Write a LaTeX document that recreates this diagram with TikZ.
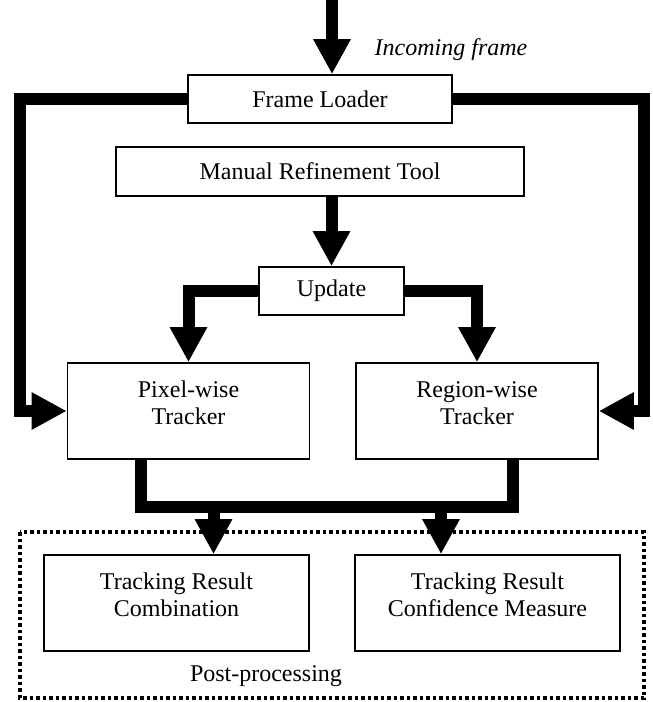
\documentclass[tikz,border=0pt]{standalone}
\usepackage{fontspec}
\setmainfont{Liberation Serif}
\usetikzlibrary{arrows.meta, calc}

\begin{document}
\begin{tikzpicture}[
  x=1pt, y=-1pt,
  every node/.style={font=\fontsize{24}{27}\selectfont},
  block/.style={draw, line width=1.6pt, minimum height=48pt, inner sep=0pt, align=center},
  tall/.style={block, minimum width=242pt, minimum height=96pt, text depth=16pt},
  note/.style={font=\fontsize{24}{27}\selectfont\itshape},
  bar/.style={line width=12pt},
  arrow/.style={bar, -{Triangle[width=35pt, length=35pt]}},
  group/.style={line width=3.5pt, dash pattern=on 3.5pt off 3pt}
]
\useasboundingbox (0,0) rectangle (653,702);

% Frame loader, refinement and update
\node[block, minimum width=264pt] (load) at (320,99) {Frame Loader};
\node[block, minimum width=408pt, minimum height=49pt] (manual) at (320,171.5) {Manual Refinement Tool};
\node[block, minimum width=145pt] (update) at (331.5,291) {Update};

% Trackers
\node[tall] (pix) at (188.5,411) {Pixel-wise\\Tracker};
\node[tall] (reg) at (477,411) {Region-wise\\Tracker};

% Post-processing
\node[tall, minimum width=265pt] (comb) at (176.5,603) {Tracking Result\\Combination};
\node[tall, minimum width=265pt] (conf) at (487.5,603) {Tracking Result\\Confidence Measure};
\draw[group] (20,532) rectangle (644,698);
\node (post) at (266,676) {Post-processing};

% Incoming frame
\coordinate (in) at (332,0);
\draw[arrow] (in) -- (in |- load.north);
\node[note] (inlbl) at (451,50) {Incoming frame};

% Side loops
\coordinate (loopL) at (20,0);
\coordinate (loopR) at (644,0);
\draw[arrow] (load.west) -- (load.west -| loopL) |- (pix.west);
\draw[arrow] (load.east) -- (load.east -| loopR) |- (reg.east);

% Refinement to trackers
\draw[arrow] (update |- manual.south) -- (update.north);
\draw[arrow] (update.west) -| (pix.north);
\draw[arrow] (update.east) -| (reg.north);

% Merge into post-processing
\coordinate (merge) at (0,507);
\coordinate (pixout) at ([xshift=-47.5pt]pix.south);
\coordinate (regout) at ([xshift=36pt]reg.south);
\coordinate (combin) at ([xshift=37pt]comb.north);
\coordinate (confin) at ([xshift=-46.5pt]conf.north);
\draw[bar] (pixout) |- (merge -| regout) -- (regout);
\draw[arrow] (merge -| combin) -- (combin);
\draw[arrow] (merge -| confin) -- (confin);

\end{tikzpicture}
\end{document}
